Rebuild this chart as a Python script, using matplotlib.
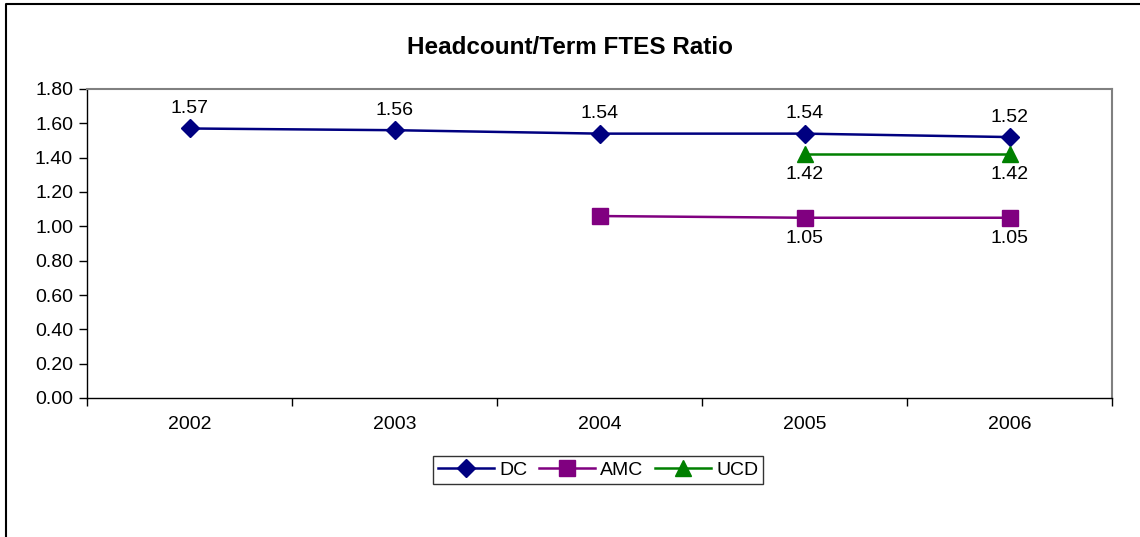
import matplotlib
matplotlib.use("Agg")
import matplotlib.pyplot as plt
from matplotlib.lines import Line2D
import numpy as np

plt.rcParams['font.family'] = ['Liberation Sans', 'DejaVu Sans']

years = ["2002", "2003", "2004", "2005", "2006"]
dc = [1.57, 1.56, 1.54, 1.54, 1.52]
amc = [None, None, 1.06, 1.05, 1.05]
ucd = [None, None, None, 1.42, 1.42]
amc_labels = [None, None, None, "1.05", "1.05"]
dc_labels = ["1.57", "1.56", "1.54", "1.54", "1.52"]
ucd_labels = [None, None, None, "1.42", "1.42"]
yticks = [0.0, 0.2, 0.4, 0.6, 0.8, 1.0, 1.2, 1.4, 1.6, 1.8]

FS = 14
W, H = 1140, 537
fig = plt.figure(figsize=(W / 100, H / 100), dpi=100)
ax = fig.add_axes([87 / W, 1 - 398 / H, (1112 - 87) / W, (398 - 89) / H])

x = np.arange(len(years))

def series(vals):
    xs = [xi for xi, v in zip(x, vals) if v is not None]
    ys = [v for v in vals if v is not None]
    return xs, ys

xs, ys = series(dc)
ax.plot(xs, ys, color="#000080", lw=1.8, marker="D", ms=9, mfc="#000080", mec="#000080", zorder=3)
xs, ys = series(amc)
ax.plot(xs, ys, color="#800080", lw=1.8, marker="s", ms=11, mfc="#800080", mec="#800080", zorder=3)
xs, ys = series(ucd)
ax.plot(xs, ys, color="#008000", lw=1.8, marker="^", ms=12, mfc="#008000", mec="#008000", zorder=3)

for xi, v, lab in zip(x, dc, dc_labels):
    if lab:
        ax.annotate(lab, (xi, v), xytext=(0, 20 * 0.72), textcoords="offset points",
                    ha="center", va="center", fontsize=FS)
for xi, v, lab in zip(x, ucd, ucd_labels):
    if lab:
        ax.annotate(lab, (xi, v), xytext=(0, -20 * 0.72), textcoords="offset points",
                    ha="center", va="center", fontsize=FS)
for xi, v, lab in zip(x, amc, amc_labels):
    if lab:
        ax.annotate(lab, (xi, v), xytext=(0, -21 * 0.72), textcoords="offset points",
                    ha="center", va="center", fontsize=FS)

ax.set_xlim(-0.5, len(years) - 0.5)
ax.set_ylim(0, 1.8)
ax.set_yticks(yticks)
ax.set_yticklabels([f"{t:.2f}" for t in yticks], fontsize=FS)
ax.set_xticks(x)
ax.set_xticklabels(years, fontsize=FS)
ax.set_xticks(np.arange(-0.5, len(years)), minor=True)
ax.tick_params(axis="x", which="major", length=0, pad=13)
ax.tick_params(axis="x", which="minor", length=6, direction="out", width=1)
ax.tick_params(axis="y", length=6, direction="out", width=1, pad=4)

for s in ["top", "right"]:
    ax.spines[s].set_color("#808080")
    ax.spines[s].set_linewidth(1.5)
for s in ["left", "bottom"]:
    ax.spines[s].set_color("black")
    ax.spines[s].set_linewidth(1.0)

fig.text(0.5, 1 - 47 / H, "Headcount/Term FTES Ratio", ha="center", va="center",
         fontsize=17.5, fontweight="bold")

handles = [
    Line2D([], [], color="#000080", lw=1.8, marker="D", ms=9),
    Line2D([], [], color="#800080", lw=1.8, marker="s", ms=11),
    Line2D([], [], color="#008000", lw=1.8, marker="^", ms=11),
]
leg = fig.legend(handles, ["DC", "AMC", "UCD"], loc="center",
                 bbox_to_anchor=(598 / W, 1 - 470 / H), ncol=3, fontsize=FS,
                 frameon=True, fancybox=False, edgecolor="black",
                 handlelength=2.9, handletextpad=0.25, columnspacing=0.6,
                 borderpad=0.25, borderaxespad=0)
leg.get_frame().set_linewidth(1.0)

# outer chart border (top and left visible)
fig.add_artist(Line2D([5.5 / W, 5.5 / W, 1.0], [0, 1 - 3.5 / H, 1 - 3.5 / H],
                      transform=fig.transFigure, color="black", lw=1.5))

fig.savefig("out.png", dpi=100, facecolor="white")
